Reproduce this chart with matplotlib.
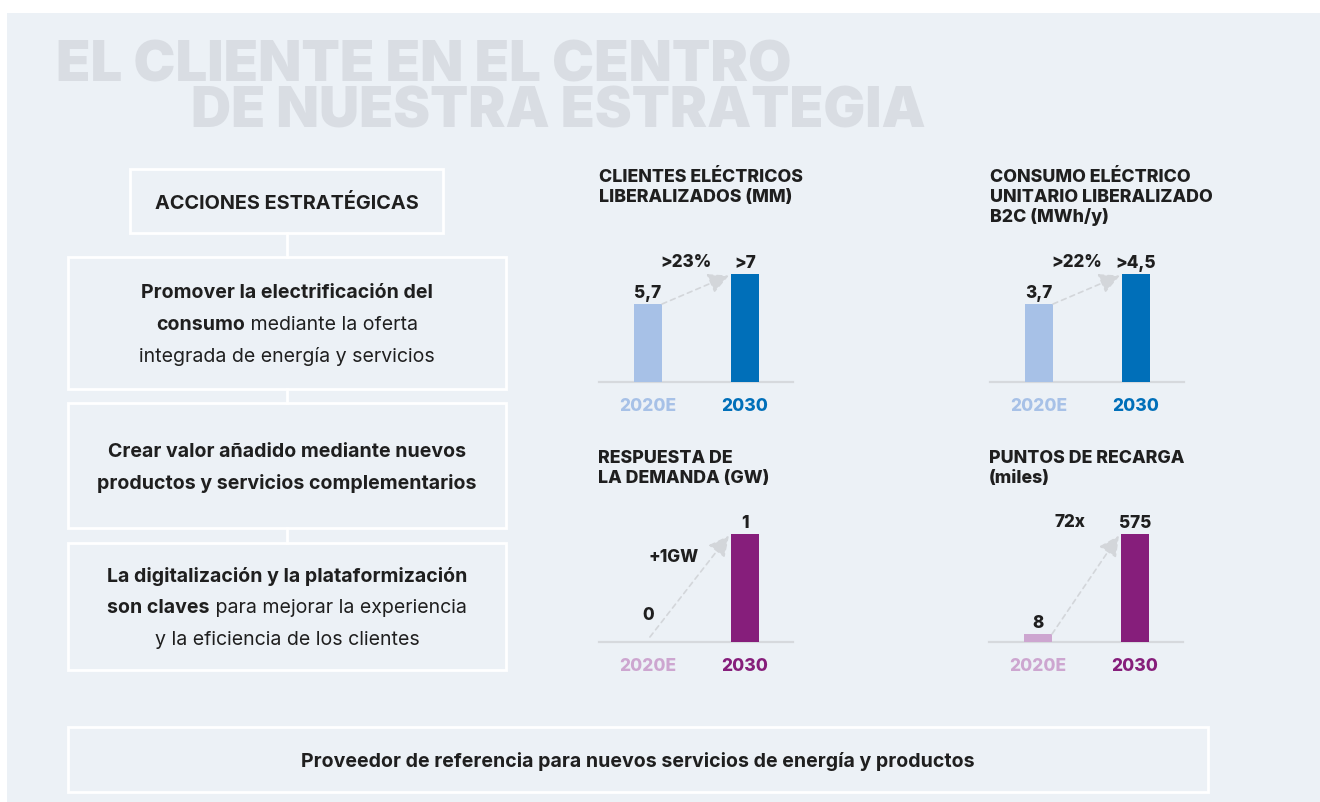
import numpy as np
import matplotlib
matplotlib.use('Agg')
import matplotlib.pyplot as plt
from matplotlib.patches import Rectangle

plt.rcParams['font.family'] = ['Inter', 'DejaVu Sans']

# ---- data ----
years = ['2020E', '2030']
clientes = [5.7, 7.0]
consumo = [3.7, 4.5]
respuesta = [0.0, 1.0]
recarga = [8, 575]

clientes_lbl = ['5,7', '>7']
consumo_lbl = ['3,7', '>4,5']
respuesta_lbl = ['0', '1']
recarga_lbl = ['8', '575']

growth_lbl = ['>23%', '>22%', '+1GW', '72x']

chart_titles = [
    ['CLIENTES ELÉCTRICOS', 'LIBERALIZADOS (MM)'],
    ['CONSUMO ELÉCTRICO', 'UNITARIO LIBERALIZADO', 'B2C (MWh/y)'],
    ['RESPUESTA DE', 'LA DEMANDA (GW)'],
    ['PUNTOS DE RECARGA', '(miles)'],
]

title_lines = ['EL CLIENTE EN EL CENTRO', 'DE NUESTRA ESTRATEGIA']
acciones_head = 'ACCIONES ESTRATÉGICAS'
# each line is a list of (text, weight) segments
acciones = [
    [[('Promover la electrificación del', 'bold')],
     [('consumo', 'bold'), (' mediante la oferta', 'normal')],
     [('integrada de energía y servicios', 'normal')]],
    [[('Crear valor añadido mediante nuevos', 'bold')],
     [('productos y servicios complementarios', 'bold')]],
    [[('La digitalización y la plataformización', 'bold')],
     [('son claves', 'bold'), (' para mejorar la experiencia', 'normal')],
     [('y la eficiencia de los clientes', 'normal')]],
]
footer = 'Proveedor de referencia para nuevos servicios de energía y productos'

# ---- colours ----
BG = '#ecf1f6'
TXT = '#1f1f1f'
GHOST = '#d9dde3'
LBLUE, DBLUE = '#a7c1e7', '#006fb9'
LPURP, DPURP = '#cda6d0', '#861e7b'
ARROW = '#d3d6da'

W, H = 1320, 802
fig = plt.figure(figsize=(W / 100, H / 100), dpi=100, facecolor='white')
ax0 = fig.add_axes([0, 0, 1, 1])
ax0.set_xlim(0, W)
ax0.set_ylim(H, 0)
ax0.axis('off')
ax0.add_patch(Rectangle((7, 13), W - 7, H - 13, facecolor=BG, edgecolor='none', zorder=0))

# big ghost title
ax0.text(56, 82, title_lines[0], fontsize=40.5, fontweight='black', color=GHOST,
         ha='left', va='baseline', zorder=1)
ax0.text(191, 128, title_lines[1], fontsize=40, fontweight='black', color=GHOST,
         ha='left', va='baseline', zorder=1)

renderer = fig.canvas.get_renderer()
BODY = 14.1


def mixed_line(xc, y, parts, size=BODY):
    texts = []
    for s, w in parts:
        t = ax0.text(0, y, s, fontsize=size, fontweight=w, color=TXT,
                     ha='left', va='baseline', zorder=3)
        texts.append(t)
    widths = [t.get_window_extent(renderer).width for t in texts]
    x = xc - sum(widths) / 2
    for t, w in zip(texts, widths):
        t.set_x(x)
        x += w


def box(x0, y0, x1, y1):
    ax0.add_patch(Rectangle((x0, y0), x1 - x0, y1 - y0, facecolor='none',
                            edgecolor='white', lw=2.0, zorder=2))


# left column of boxes
box(130, 169, 443, 233)
mixed_line(286.5, 209, [(acciones_head, 'bold')], size=14.3)
boxes = [(257, 389), (403, 528), (543, 670)]
baselines = [[298, 330, 362], [457, 489], [582, 613, 645]]
ax0.plot([287, 287], [233, 257], color='white', lw=2.0, zorder=2)
for (y0, y1), lines, bl in zip(boxes, acciones, baselines):
    box(68, y0, 506, y1)
    for parts, yb in zip(lines, bl):
        mixed_line(287, yb, parts)
ax0.plot([287, 287], [389, 403], color='white', lw=2.0, zorder=2)
ax0.plot([287, 287], [528, 543], color='white', lw=2.0, zorder=2)

# footer box
box(68, 727, 1208, 792)
mixed_line(638, 767, [(footer, 'bold')])

# ---- bar charts ----
charts = [
    dict(vals=clientes, lbls=clientes_lbl, cols=[LBLUE, DBLUE], px=(599, 793, 382),
         floor=2.32, top=8.82, title_xy=(599, 182), grow=(0.39, 115)),
    dict(vals=consumo, lbls=consumo_lbl, cols=[LBLUE, DBLUE], px=(990, 1184, 382),
         floor=1.62, top=5.62, title_xy=(990, 182), grow=(0.39, 115)),
    dict(vals=respuesta, lbls=respuesta_lbl, cols=[LPURP, DPURP], px=(599, 793, 642),
         floor=0.0, top=1.389, title_xy=(598, 463), grow=(0.26, 80)),
    dict(vals=recarga, lbls=recarga_lbl, cols=[LPURP, DPURP], px=(989, 1183, 642),
         floor=-37.4, top=812.9, title_xy=(989, 463), grow=(0.33, 115)),
]
AX_H = 150
BAR_W = 0.29
LBL = 12.3

for c, ttl, g in zip(charts, chart_titles, growth_lbl):
    xl, xr, yb = c['px']
    ax = fig.add_axes([xl / W, 1 - yb / H, (xr - xl) / W, AX_H / H])
    ax.set_xlim(-0.505, 1.495)
    ax.set_ylim(c['floor'], c['top'])
    ax.axis('off')
    ax.patch.set_alpha(0)
    fl = c['floor']
    vals = np.array(c['vals'], dtype=float)
    x = np.arange(len(vals))
    ax.bar(x, vals - fl, bottom=fl, width=BAR_W, color=c['cols'], zorder=2)
    ax.axhline(fl, color='#d6d9dd', lw=1.6, zorder=1, clip_on=False)

    for i, (v, lbl) in enumerate(zip(vals, c['lbls'])):
        pad = 6 if v > fl else 22
        ax.annotate(lbl, (i, v), xytext=(0, pad), textcoords='offset pixels',
                    ha='center', va='baseline', fontsize=LBL, fontweight='heavy',
                    color=TXT, annotation_clip=False)
        ax.annotate(years[i], (i, fl), xytext=(0, -29), textcoords='offset pixels',
                    ha='center', va='baseline', fontsize=12.5, fontweight='heavy',
                    color=c['cols'][i], annotation_clip=False)

    # dashed growth arrow between the two bars
    start_x = BAR_W / 2 if vals[0] > fl else 0.02
    start_y = vals[0] if vals[0] > fl else fl + 5 / AX_H * (c['top'] - fl)
    ax.annotate('', xy=(1 - BAR_W / 2 - 0.02, vals[1] - 0.01 * (c['top'] - fl)),
                xytext=(start_x, start_y),
                arrowprops=dict(arrowstyle='-|>,head_length=0.9,head_width=0.45',
                                linestyle=(0, (3, 2.5)), color=ARROW, lw=1.2,
                                shrinkA=0, shrinkB=0, mutation_scale=14),
                annotation_clip=False)
    ax.annotate(g, (c['grow'][0], fl), xytext=(0, c['grow'][1]),
                textcoords='offset pixels', ha='center', va='baseline',
                fontsize=LBL, fontweight='heavy', color=TXT, annotation_clip=False)

    tx, ty = c['title_xy']
    for k, line in enumerate(ttl):
        ax0.text(tx, ty + 20 * k, line, fontsize=12.8, fontweight='heavy', color=TXT,
                 ha='left', va='baseline', zorder=3)

fig.savefig('out.png', dpi=100, facecolor='white')
